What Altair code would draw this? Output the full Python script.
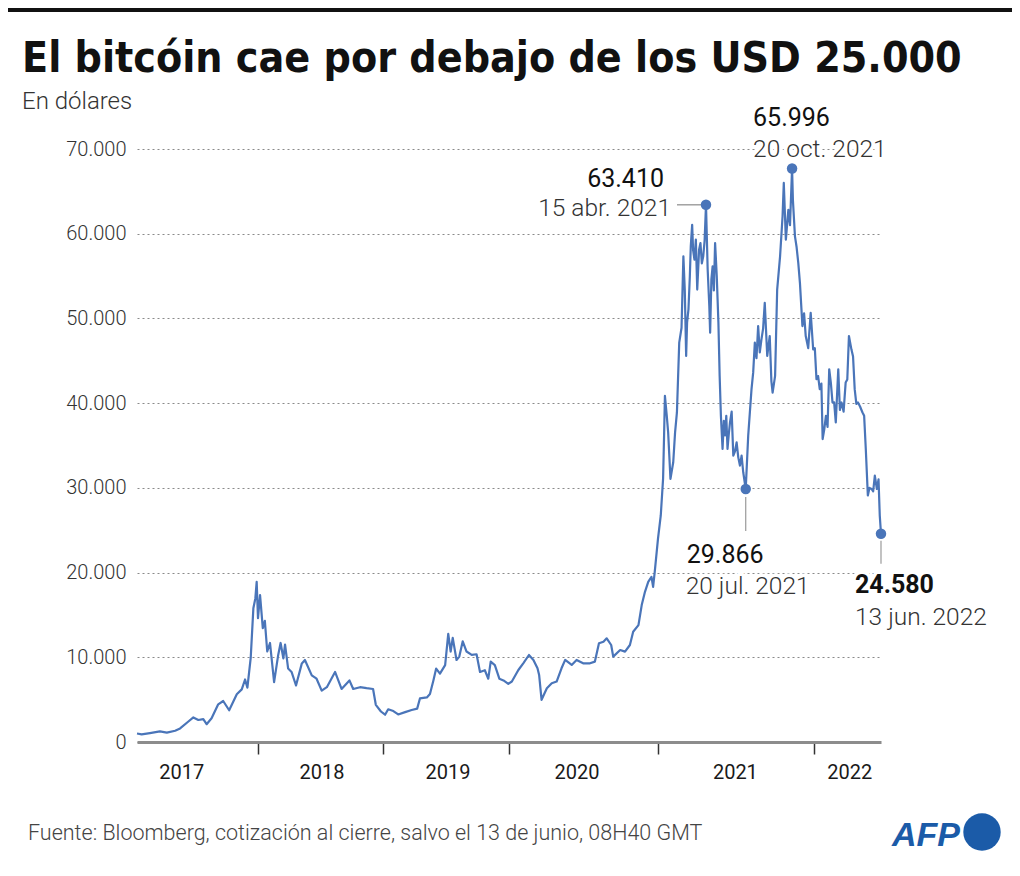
import altair as alt
import pandas as pd

# ---------------- data ----------------
dates = [
    "2017-01-01", "2017-01-15", "2017-02-09", "2017-03-11", "2017-04-01", "2017-04-26",
    "2017-05-11", "2017-06-05", "2017-06-20", "2017-07-05", "2017-07-20", "2017-07-30",
    "2017-08-14", "2017-09-03", "2017-09-18", "2017-10-06", "2017-10-29", "2017-11-13",
    "2017-11-23", "2017-11-30", "2017-12-10", "2017-12-18", "2017-12-24", "2017-12-28",
    "2018-01-01", "2018-01-07", "2018-01-15", "2018-01-21", "2018-01-28", "2018-02-05",
    "2018-02-17", "2018-03-01", "2018-03-08", "2018-03-16", "2018-03-21", "2018-03-30",
    "2018-04-09", "2018-04-22", "2018-05-09", "2018-05-18", "2018-06-07", "2018-06-21",
    "2018-07-06", "2018-07-21", "2018-08-14", "2018-09-02", "2018-09-25", "2018-10-06",
    "2018-10-26", "2018-11-14", "2018-12-03", "2018-12-11", "2018-12-26",
    "2019-01-07", "2019-01-16", "2019-01-31", "2019-02-14", "2019-03-06", "2019-03-25",
    "2019-04-10", "2019-04-18", "2019-05-08", "2019-05-17", "2019-05-27", "2019-06-04",
    "2019-06-15", "2019-06-30", "2019-07-09", "2019-07-16", "2019-07-22", "2019-08-02",
    "2019-08-10", "2019-08-20", "2019-08-31", "2019-09-15", "2019-09-29", "2019-10-09",
    "2019-10-23", "2019-11-02", "2019-11-09", "2019-11-21", "2019-12-04", "2019-12-16",
    "2019-12-30",
    "2020-01-08", "2020-01-24", "2020-02-05", "2020-02-19", "2020-03-01", "2020-03-11",
    "2020-03-15", "2020-03-21", "2020-04-03", "2020-04-15", "2020-04-27", "2020-05-09",
    "2020-05-18", "2020-06-03", "2020-06-15", "2020-07-01", "2020-07-18", "2020-07-30",
    "2020-08-09", "2020-08-20", "2020-08-28", "2020-09-08", "2020-09-13", "2020-09-30",
    "2020-10-12", "2020-10-24", "2020-11-01", "2020-11-14", "2020-11-22", "2020-11-30",
    "2020-12-08", "2020-12-16", "2020-12-20", "2020-12-24",
    "2021-01-01", "2021-01-07", "2021-01-12", "2021-01-14", "2021-01-16", "2021-01-20",
    "2021-01-23", "2021-01-28", "2021-02-03", "2021-02-07", "2021-02-11", "2021-02-16",
    "2021-02-21", "2021-02-25", "2021-02-28", "2021-03-03", "2021-03-05", "2021-03-08",
    "2021-03-11", "2021-03-13", "2021-03-16", "2021-03-18", "2021-03-21", "2021-03-24",
    "2021-03-27", "2021-03-31", "2021-04-03", "2021-04-06", "2021-04-09", "2021-04-12",
    "2021-04-15", "2021-04-19", "2021-04-23", "2021-04-25", "2021-04-28",
    "2021-05-01", "2021-05-04", "2021-05-07", "2021-05-11", "2021-05-15", "2021-05-18",
    "2021-05-21", "2021-05-25", "2021-05-28", "2021-05-31",
    "2021-06-03", "2021-06-06", "2021-06-09", "2021-06-12", "2021-06-16", "2021-06-20",
    "2021-06-24", "2021-06-28", "2021-07-02", "2021-07-06", "2021-07-10", "2021-07-14",
    "2021-07-20", "2021-07-26", "2021-08-03", "2021-08-07", "2021-08-11", "2021-08-15",
    "2021-08-19", "2021-08-23", "2021-08-27", "2021-08-31",
    "2021-09-04", "2021-09-10", "2021-09-16", "2021-09-20", "2021-09-23", "2021-09-29", "2021-10-04",
    "2021-10-11", "2021-10-17", "2021-10-20", "2021-10-25", "2021-10-31", "2021-11-04", "2021-11-09",
    "2021-11-11", "2021-11-16", "2021-11-20", "2021-11-24", "2021-11-28", "2021-12-04", "2021-12-08",
    "2021-12-12", "2021-12-18", "2021-12-24", "2021-12-30",
    "2022-01-03", "2022-01-07", "2022-01-11", "2022-01-15", "2022-01-19", "2022-01-22", "2022-01-26",
    "2022-01-30", "2022-02-03", "2022-02-07", "2022-02-11", "2022-02-15", "2022-02-19",
    "2022-02-23", "2022-03-01", "2022-03-05", "2022-03-09", "2022-03-14", "2022-03-19",
    "2022-03-23", "2022-03-27", "2022-04-02", "2022-04-06",
    "2022-04-10", "2022-04-14", "2022-04-18", "2022-04-23", "2022-04-29", "2022-05-03",
    "2022-05-07", "2022-05-12", "2022-05-16", "2022-05-21",
    "2022-05-25", "2022-05-29", "2022-06-03", "2022-06-07", "2022-06-10", "2022-06-13",
]
prices = [
    1000, 900, 1050, 1250, 1100, 1330,
    1600, 2420, 2900, 2600, 2700, 2100,
    2800, 4450, 4840, 3750, 5630, 6210,
    7380, 6410, 9920, 15780, 16950, 18910,
    14610, 17340, 13440, 14300, 10680, 11690,
    7070, 10280, 11690, 9880, 11490, 8670,
    8270, 6670, 9280, 9680, 7870, 7470,
    6060, 6470, 8270, 6260, 7270, 6260,
    6470, 6350, 6260, 4390, 3600,
    3220, 3860, 3650, 3250, 3530, 3780,
    3940, 5140, 5260, 5660, 7270, 8670,
    8070, 9080, 12770, 10680, 12290, 9680,
    10080, 11890, 10680, 10280, 10360, 8270,
    8470, 7470, 9480, 9080, 7470, 7270,
    6870,
    7140, 8500, 9290, 10270, 9690, 8700,
    7920, 4980, 6350, 6940, 7140, 8700,
    9690, 9100, 9690, 9290, 9290, 9490,
    11650, 11840, 12240, 11450, 10080, 10860,
    10670, 11450, 13020, 13800, 16160, 17730,
    18900, 19490, 18310, 20080,
    24000, 26740, 31060, 35760, 40860, 38510,
    36550, 31060, 33020, 36550, 38900, 47140,
    48900, 57330, 53400, 45570, 49500, 51060,
    55000, 58500, 61060, 58100, 56940, 59300,
    53410, 58100, 58900, 56500, 57330, 59200,
    63410, 55800, 51450, 48310, 54600,
    56160, 53300, 58900, 55000, 49490, 43200,
    38510, 34590, 37900, 36200,
    38510, 34590, 36300, 37730, 39000, 33800,
    34300, 35370, 33600, 32630, 33800, 31840,
    29866, 36160, 41650, 43600, 47140, 45300,
    49100, 46000, 47530, 48800,
    51840, 45570, 47920, 42600, 41250, 43220, 53410,
    57330, 62040, 65996, 59290, 62820, 61000, 67700,
    64000, 59690, 58400, 56550, 54200, 49100, 50600,
    47920, 46500, 50670, 46350,
    46500, 42820, 43200, 41650, 42300, 35760, 36900,
    38510, 37200, 44000, 42400, 40080, 40100,
    37730, 44000, 39200, 40080, 39000, 42430,
    42800, 47920, 46350, 45500,
    41650, 39900, 40080, 39600, 38900, 38500,
    34590, 29100, 30000, 29870,
    29600, 31450, 29870, 31000, 26730, 24580,
]

# highlighted points (where the dots sit in the picture) and their labels
ann_dates = ["2021-04-15", "2021-11-09", "2021-07-20", "2022-06-13"]
ann_values = [63410, 67700, 29866, 24580]
ann_numbers = ["63.410", "65.996", "29.866", "24.580"]
ann_labels = ["15 abr. 2021", "20 oct. 2021", "20 jul. 2021", "13 jun. 2022"]

# year labels (placed between the year ticks) and tick dates
year_label_dates = ["2017-05-16", "2018-07-07", "2019-07-08", "2020-06-16", "2021-06-25", "2022-03-29"]
year_labels = ["2017", "2018", "2019", "2020", "2021", "2022"]
tick_dates = ["2018-01-01", "2019-01-01", "2020-01-01", "2021-01-01", "2022-01-01"]
y_ticks = [0, 10000, 20000, 30000, 40000, 50000, 60000, 70000]

# the reference's time axis is not uniform: breakpoints of its (piecewise) x scale
scale_dates = ["2017-01-01", "2018-01-01", "2019-01-01", "2020-01-01", "2021-01-01",
               "2021-04-15", "2022-01-01", "2022-06-13"]
scale_range = [0, 121, 246, 372, 521, 569, 677, 744]

title_text = "El bitcóin cae por debajo de los USD 25.000"
subtitle_text = "En dólares"
source_text = "Fuente: Bloomberg, cotización al cierre, salvo el 13 de junio, 08H40 GMT"

# ---------------- styling ----------------
BLUE = "#4a75b9"
LIGHT = "Roboto"
COND = "'Liberation Sans Narrow', 'DejaVu Sans Condensed', 'Roboto Condensed', Roboto, sans-serif"
W, H = 744, 593
PAD = {"left": 129, "top": 141, "right": 131, "bottom": 116}


def ms(s):
    """date string -> epoch milliseconds (unit conversion only)"""
    return int(pd.Timestamp(s).value // 10**6)


df = pd.DataFrame({"fecha": dates, "precio": prices})
df["t"] = [ms(d) for d in dates]
ann = pd.DataFrame({"fecha": ann_dates, "precio": ann_values,
                    "num": ann_numbers, "lab": ann_labels})
ann["t"] = [ms(d) for d in ann_dates]
yl = pd.DataFrame({"fecha": year_label_dates, "lbl": year_labels})
yl["t"] = [ms(d) for d in year_label_dates]

xscale = alt.Scale(domain=[ms(d) for d in scale_dates], range=scale_range, nice=False, zero=False)
yscale = alt.Scale(domain=[0, 70000], nice=False, zero=True)

xaxis = alt.Axis(
    values=[ms(d) for d in tick_dates], labels=False, ticks=True, tickSize=12,
    tickColor="#333333", tickWidth=1.5, domain=True, domainColor="#8c8c8c",
    domainWidth=3, grid=False, title=None,
)
yaxis = alt.Axis(
    values=y_ticks, grid=True, gridDash=[2, 3], gridColor="#8a8a8a", gridWidth=1,
    domain=False, ticks=False, tickSize=0, labelPadding=11,
    labelExpr="replace(format(datum.value, ','), ',', '.')",
    labelFont=LIGHT, labelFontWeight=300, labelFontSize=20, labelColor="#333333",
    title=None,
)

x_enc = alt.X("t:Q", scale=xscale, axis=xaxis)
y_enc = alt.Y("precio:Q", scale=yscale, axis=yaxis)

line = alt.Chart(df).mark_line(color=BLUE, strokeWidth=2.2, strokeJoin="round").encode(
    x=x_enc, y=y_enc, order="t:Q")
dots = alt.Chart(ann).mark_circle(color=BLUE, size=110, opacity=1).encode(x=x_enc, y=y_enc)

layers = [line]

# annotation styles: (align, num dx, num dy, label dx, label dy, num weight, connector)
styles = [
    ("right", -42, -18, -35, 11, 400, ("h", -29, -3)),
    ("left", -39, -42, -39, -11, 400, None),
    ("left", -59, 74, -60, 105, 400, ("v", 8, 42)),
    ("left", -26, 59, -26, 91, 700, ("v", 7, 30)),
]
for i, (align, ndx, ndy, ldx, ldy, nw, conn) in enumerate(styles):
    row = ann.iloc[[i]]
    base = alt.Chart(row)
    if conn is not None:
        if conn[0] == "h":
            layers.append(base.mark_rule(color="#8a8a8a", strokeWidth=1.2, xOffset=conn[1], x2Offset=conn[2])
                          .encode(x=x_enc, x2="t:Q", y=y_enc))
        else:
            layers.append(base.mark_rule(color="#9a9a9a", strokeWidth=1.2, yOffset=conn[1], y2Offset=conn[2])
                          .encode(x=x_enc, y=y_enc, y2="precio:Q"))
    for field, dx, dy, weight, color in [("num", ndx, ndy, nw, "#111111"),
                                         ("lab", ldx, ldy, 300, "#333333")]:
        size = 25 if field == "num" else 24.5
        layers.append(base.mark_text(align=align, baseline="alphabetic", dx=dx, dy=dy, font=LIGHT,
                                     fontWeight=weight, fontSize=size, color="white", stroke="white",
                                     strokeWidth=7, strokeJoin="round")
                      .encode(x=x_enc, y=y_enc, text=f"{field}:N"))
        layers.append(base.mark_text(align=align, baseline="alphabetic", dx=dx, dy=dy, font=LIGHT,
                                     fontWeight=weight, fontSize=size, color=color)
                      .encode(x=x_enc, y=y_enc, text=f"{field}:N"))

layers.append(dots)

# year labels centred between the ticks
layers.append(alt.Chart(yl).mark_text(align="center", baseline="middle", font=LIGHT, fontSize=20,
                                      color="#1a1a1a")
              .encode(x=x_enc, y=alt.value(624), text="lbl:N"))


def free_text(txt, x, y, **kw):
    return alt.Chart(pd.DataFrame({"txt": [txt]})).mark_text(baseline="alphabetic", align="left", **kw).encode(
        x=alt.value(x), y=alt.value(y), text="txt:N")


# top black band
layers.append(alt.Chart(pd.DataFrame({"txt": [""]})).mark_rect(color="#111111").encode(
    x=alt.value(-129), x2=alt.value(875), y=alt.value(-141), y2=alt.value(-137)))
layers.append(free_text(title_text, -115, -77, font=COND, fontWeight="bold", fontSize=42.5, color="#111111"))
layers.append(free_text(subtitle_text, -115, -40, font=LIGHT, fontWeight=300, fontSize=24, color="#333333"))
layers.append(free_text(source_text, -109, 691, font=LIGHT, fontWeight=300, fontSize=21.5, color="#444444"))
# AFP logo
layers.append(free_text("AFP", 755, 697, font="Liberation Sans", fontWeight="bold", fontStyle="italic",
                        fontSize=34, color="#1b5ba8"))
layers.append(alt.Chart(pd.DataFrame({"txt": [""]})).mark_circle(color="#1b5ba8", size=1400, opacity=1).encode(
    x=alt.value(845), y=alt.value(683)))

chart = alt.layer(*layers).properties(
    width=W, height=H, autosize=alt.AutoSizeParams(type="none"), padding=PAD,
    background="white",
).configure_view(stroke=None)

chart.save("out.html", embed_options={"renderer": "svg", "actions": False})
